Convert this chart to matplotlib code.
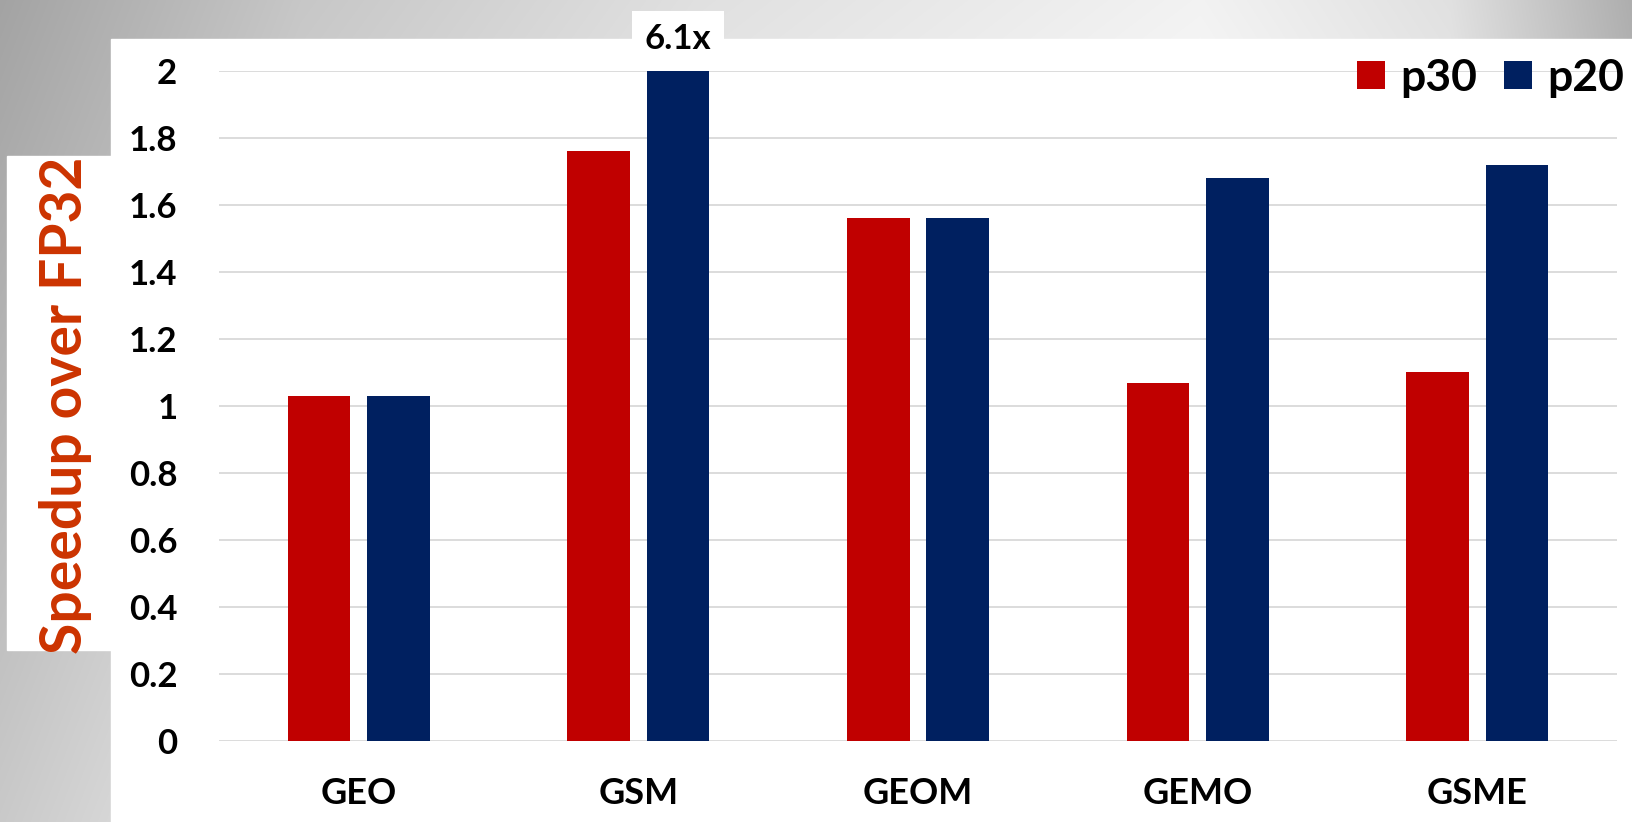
import matplotlib
matplotlib.use("Agg")
import matplotlib.pyplot as plt
from matplotlib.font_manager import fontManager
from matplotlib.patches import Rectangle
import numpy as np

categories = ["GEO", "GSM", "GEOM", "GEMO", "GSME"]
p30 = [1.03, 1.76, 1.56, 1.07, 1.10]
p20 = [1.03, 6.1, 1.56, 1.68, 1.72]
series_names = ["p30", "p20"]
yticks = [0, 0.2, 0.4, 0.6, 0.8, 1.0, 1.2, 1.4, 1.6, 1.8, 2.0]
ytick_labels = ["0", "0.2", "0.4", "0.6", "0.8", "1", "1.2", "1.4", "1.6", "1.8", "2"]
y_max = 2.0

RED = "#c00000"
NAVY = "#002060"
LABEL_RED = "#cc3300"

installed = {f.name for f in fontManager.ttflist}
main_font = "Lato" if "Lato" in installed else "DejaVu Sans"

W, H = 1633, 822
fig = plt.figure(figsize=(W / 100, H / 100), dpi=100)

# slide background: grey gradient with white panels on top
bg = fig.add_axes([0, 0, 1, 1], zorder=-10)
xx = np.arange(W)
yy = np.arange(H)[:, None]
shade = np.interp(xx, [0, 300, 700, 1200, 1450, W], [0.64, 0.78, 0.88, 0.95, 0.88, 0.68])
grey = np.clip(shade[None, :] + 0.15 * yy / H, 0, 1)
bg.imshow(np.dstack([grey] * 3), extent=(0, W, H, 0), aspect="auto")
bg.add_patch(Rectangle((111, 39), W - 111, H - 39, color="white"))
bg.add_patch(Rectangle((7, 156), 110, 494, color="white"))
bg.set_xlim(0, W)
bg.set_ylim(H, 0)
bg.axis("off")

ax = fig.add_axes([219 / W, 1 - 741 / H, (1617 - 219) / W, (741 - 71) / H])
ax.patch.set_alpha(0)

x = np.arange(len(categories))
width = 0.224
offset = 0.142
b30 = ax.bar(x - offset, p30, width, color=RED, label=series_names[0], zorder=3)
b20 = ax.bar(x + offset, p20, width, color=NAVY, label=series_names[1], zorder=3)

ax.set_xlim(-0.5, len(categories) - 0.5)
ax.set_ylim(0, y_max)
ax.set_yticks(yticks)
ax.set_yticklabels(ytick_labels)
ax.set_xticks(x)
ax.set_xticklabels(categories)
for s in ax.spines.values():
    s.set_visible(False)
ax.tick_params(length=0)
ax.tick_params(axis="y", pad=30, labelsize=25)
ax.tick_params(axis="x", pad=26, labelsize=26)
for lab in ax.get_xticklabels() + ax.get_yticklabels():
    lab.set_fontfamily(main_font)
    lab.set_fontweight("bold")
ax.yaxis.grid(True, color="#d9d9d9", linewidth=1.3, zorder=0)
ax.set_axisbelow(True)

# value of the bar that runs off the top of the scale
for rect, val in zip(b20, p20):
    if val > y_max:
        ax.annotate(f"{val:.1f}x", xy=(rect.get_x() + rect.get_width() / 2, y_max),
                    xytext=(0, 23), textcoords="offset points", ha="center", va="center",
                    fontsize=25, fontweight="bold", family=main_font, annotation_clip=False,
                    zorder=5, bbox=dict(boxstyle="square,pad=0.36", fc="white", ec="none"))

fig.text(66 / W, 1 - 405 / H, "Speedup over FP32", rotation=90, ha="center", va="center",
         fontsize=41, fontweight="bold", color=LABEL_RED, family=main_font)

fig.legend(handles=[b30, b20], labels=series_names, loc="center right",
           bbox_to_anchor=(1624 / W, 1 - 78 / H), ncol=2, frameon=False,
           borderaxespad=0, borderpad=0,
           prop={"family": main_font, "weight": "bold", "size": 32},
           handlelength=0.62, handleheight=0.58, handletextpad=0.35, columnspacing=0.6)

fig.savefig("out.png", dpi=100)
